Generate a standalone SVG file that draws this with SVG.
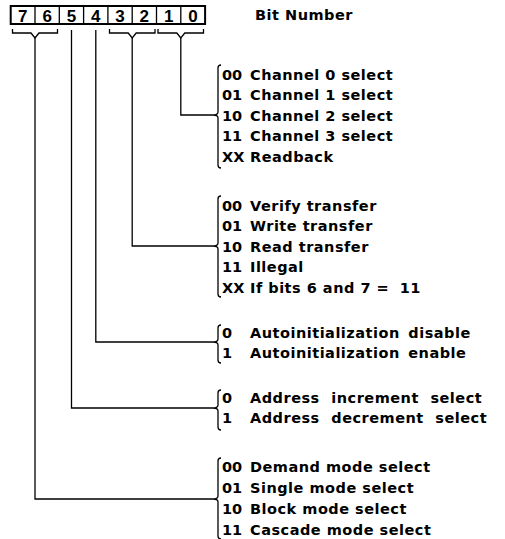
<svg xmlns="http://www.w3.org/2000/svg" width="505" height="539" viewBox="0 0 505 539">
<style>
.t{font-family:"DejaVu Sans","Liberation Sans",Arial,sans-serif;font-weight:bold;font-size:14.5px;fill:#000;letter-spacing:0.5px}
.c{font-family:"DejaVu Sans","Liberation Sans",Arial,sans-serif;font-weight:bold;font-size:14.5px;fill:#000}
.w{word-spacing:6px}
.d{font-family:"Liberation Sans",Arial,sans-serif;font-weight:bold;font-size:17px;fill:#000;text-anchor:middle}
.ln{fill:none;stroke:#000;stroke-width:1.3;stroke-linejoin:miter}
.bx{fill:none;stroke:#000;stroke-width:2}
</style>
<rect width="505" height="539" fill="#fff"/>
<g id="register">
<rect class="bx" x="10.7" y="6" width="194.4" height="18"/>
<path class="ln" d="M35,6V24M59.3,6V24M83.6,6V24M107.9,6V24M132.2,6V24M156.5,6V24M180.8,6V24"/>
<text class="d" x="22.85" y="21.5">7</text>
<text class="d" x="47.15" y="21.5">6</text>
<text class="d" x="71.45" y="21.5">5</text>
<text class="d" x="95.75" y="21.5">4</text>
<text class="d" x="120.05" y="21.5">3</text>
<text class="d" x="144.35" y="21.5">2</text>
<text class="d" x="168.65" y="21.5">1</text>
<text class="d" x="192.95" y="21.5">0</text>
<path class="ln" d="M12.5,29V33H31L35,38L39,33H57.5V29"/>
<path class="ln" d="M109.5,29V33H128.2L132.2,38L136.2,33H155V29"/>
<path class="ln" d="M158,29V33H176.8L180.8,38L184.8,33H203.5V29"/>
<text class="t" x="255" y="20">Bit Number</text>
</g>
<g id="connectors">
<path class="ln" d="M180.8,38V115H213"/>
<path class="ln" d="M132.2,38V246H213"/>
<path class="ln" d="M95.8,30V342H213"/>
<path class="ln" d="M71.5,30V408H213"/>
<path class="ln" d="M35,38V499H213"/>
</g>
<g id="channel-select">
<path class="ln" d="M221,65Q218,65 218,68V112Q218,115 213,115Q218,115 218,118V165Q218,168 221,168"/>
<text class="c" x="222" y="79.5">00</text><text class="t" x="250" y="79.5">Channel 0 select</text>
<text class="c" x="222" y="100">01</text><text class="t" x="250" y="100">Channel 1 select</text>
<text class="c" x="222" y="120.5">10</text><text class="t" x="250" y="120.5">Channel 2 select</text>
<text class="c" x="222" y="141">11</text><text class="t" x="250" y="141">Channel 3 select</text>
<text class="c" x="222" y="161.5">XX</text><text class="t" x="250" y="161.5">Readback</text>
</g>
<g id="transfer-type">
<path class="ln" d="M221,196Q218,196 218,199V243Q218,246 213,246Q218,246 218,249V294Q218,297 221,297"/>
<text class="c" x="222" y="210.5">00</text><text class="t" x="250" y="210.5">Verify transfer</text>
<text class="c" x="222" y="231">01</text><text class="t" x="250" y="231">Write transfer</text>
<text class="c" x="222" y="251.5">10</text><text class="t" x="250" y="251.5">Read transfer</text>
<text class="c" x="222" y="272">11</text><text class="t" x="250" y="272">Illegal</text>
<text class="c" x="222" y="292.5">XX</text><text class="t" x="250" y="292.5">If bits 6 and 7 = <tspan dx="5">11</tspan></text>
</g>
<g id="autoinit">
<path class="ln" d="M221,325Q218,325 218,328V339Q218,342 213,342Q218,342 218,345V360Q218,363 221,363"/>
<text class="c" x="222" y="337.5">0</text><text class="t" x="250" y="337.5" word-spacing="3">Autoinitialization disable</text>
<text class="c" x="222" y="357.5">1</text><text class="t" x="250" y="357.5" word-spacing="3">Autoinitialization enable</text>
</g>
<g id="address">
<path class="ln" d="M221,390Q218,390 218,393V405Q218,408 213,408Q218,408 218,411V427Q218,430 221,430"/>
<text class="c" x="222" y="402.5">0</text><text class="t w" x="250" y="402.5">Address increment select</text>
<text class="c" x="222" y="422.5">1</text><text class="t w" x="250" y="422.5">Address decrement select</text>
</g>
<g id="mode">
<path class="ln" d="M221,458Q218,458 218,461V496Q218,499 213,499Q218,499 218,502V536Q218,539 221,539"/>
<text class="c" x="222" y="471.5">00</text><text class="t" x="250" y="471.5">Demand mode select</text>
<text class="c" x="222" y="492.5">01</text><text class="t" x="250" y="492.5">Single mode select</text>
<text class="c" x="222" y="513.5">10</text><text class="t" x="250" y="513.5">Block mode select</text>
<text class="c" x="222" y="534.5">11</text><text class="t" x="250" y="534.5">Cascade mode select</text>
</g>
</svg>
